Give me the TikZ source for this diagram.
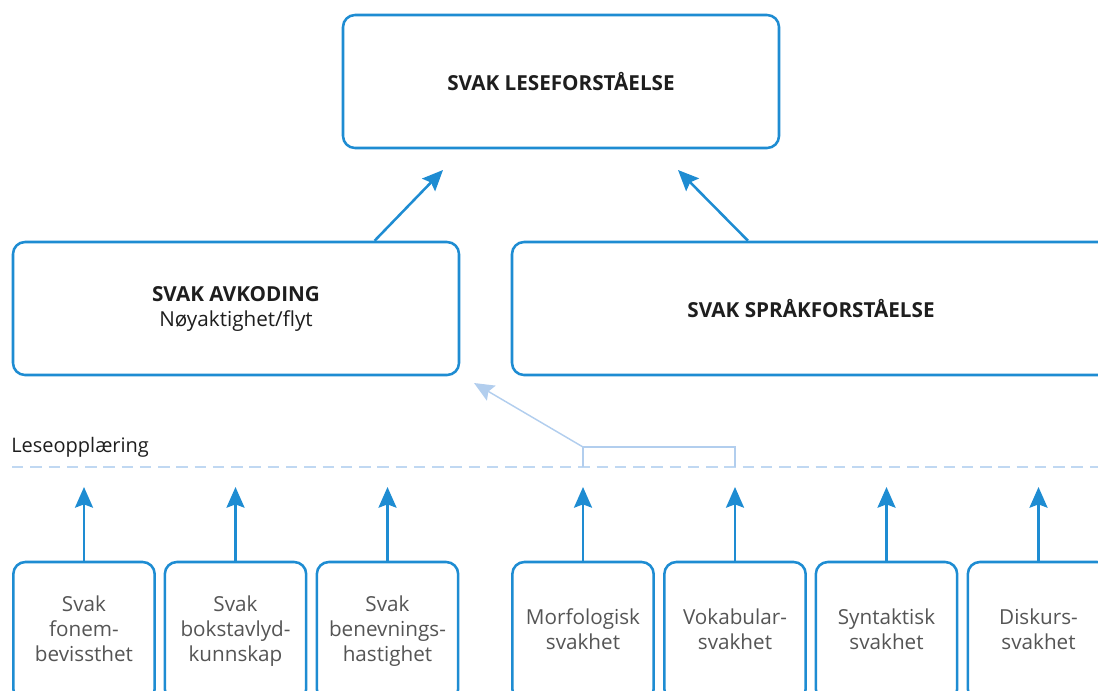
\documentclass[tikz,border=0pt]{standalone}
\usepackage{fontspec}
\setmainfont{Open Sans}
\usetikzlibrary{arrows.meta,calc}
\definecolor{boxblue}{RGB}{30,140,210}
\definecolor{lightblue}{RGB}{178,206,238}
\definecolor{dashblue}{RGB}{192,216,242}
\definecolor{textdark}{RGB}{30,30,30}
\definecolor{textgrey}{RGB}{85,85,85}
\tikzset{
  box/.style={draw=boxblue, line width=1.9pt, rounded corners=9pt, fill=white, align=center, inner sep=0pt},
  bigtext/.style={font=\bfseries\fontsize{15.5}{18.75}\selectfont, text=textdark},
  smalltext/.style={font=\fontsize{15.5}{18.75}\selectfont, text=textgrey},
  topbox/.style={box, bigtext, minimum height=99.75pt},
  lowbox/.style={box, smalltext, minimum width=106pt, minimum height=104.25pt},
  arr/.style={draw=boxblue, line width=1.9pt, -{Stealth[length=15.5pt, width=13.5pt, inset=2.5pt]}},
  lightarr/.style={draw=lightblue, line width=1.1pt, -{Stealth[length=15pt, width=13pt, inset=2.5pt]}},
  lightline/.style={draw=lightblue, line width=1.1pt},
  dashline/.style={draw=dashblue, line width=1.8pt, dash pattern=on 8.6pt off 5.1pt}
}
\begin{document}
\begin{tikzpicture}[x=0.75pt, y=-0.75pt]
\useasboundingbox (0,0) rectangle (1098,690);
\clip (0,0) rectangle (1098,690);

% top
\node[topbox, minimum width=327pt] (les) at (561,81.5) {SVAK LESEFORSTÅELSE};
% middle
\node[topbox, minimum width=334.5pt] (avk) at (236,308.5) {\strut SVAK AVKODING\\{\mdseries\fontsize{15.5}{18.75}\selectfont Nøyaktighet/flyt\strut}};
\node[topbox, minimum width=448.5pt] (spr) at (811,308.5) {SVAK SPRÅKFORSTÅELSE};

% arrows to top
\coordinate (avkstart) at ($(avk.north west)!0.809!(avk.north east)$);
\coordinate (sprstart) at ($(spr.north west)!0.395!(spr.north east)$);
\coordinate (tipL) at (443,170);
\coordinate (tipR) at (678,170);
\draw[arr] (avkstart) -- (tipL);
\draw[arr] (sprstart) -- (tipR);

% label and dashed line
\node[font=\fontsize{15}{18}\selectfont, text=textdark, anchor=west, inner sep=0pt] (lbl) at (11,447) {Leseopplæring};
\coordinate (dashL) at (12,467);
\coordinate (dashR) at (1098,467);
\draw[dashline] (dashL) -- (dashR);

% bottom boxes
\node[lowbox] (b1) at (84,631.5) {\strut Svak\\fonem-\\bevissthet\strut};
\node[lowbox] (b2) at (235.5,631.5) {\strut Svak\\bokstavlyd-\\kunnskap\strut};
\node[lowbox] (b3) at (387.5,631.5) {\strut Svak\\benevnings-\\hastighet\strut};
\node[lowbox] (b4) at (583,631.5) {\strut Morfologisk\\svakhet\strut};
\node[lowbox] (b5) at (735,631.5) {\strut Vokabular-\\svakhet\strut};
\node[lowbox] (b6) at (886.5,631.5) {\strut Syntaktisk\\svakhet\strut};
\node[lowbox] (b7) at (1038.5,631.5) {\strut Diskurs-\\svakhet\strut};

% arrows up from bottom boxes
\coordinate (tipy) at (0,487);
\foreach \b in {b1,b2,b3,b4,b5,b6,b7}{
  \draw[arr] (\b.north) -- (\b.north |- tipy);
}

% bracket and light arrow
\coordinate (br1) at (583,447);
\coordinate (br2) at (735,447);
\coordinate (lighttip) at (474,383);
\draw[lightline] (b4.north |- dashL) -- (br1) -- (br2) -- (b5.north |- dashL);
\draw[lightarr] (br1) -- (lighttip);
\end{tikzpicture}
\end{document}
